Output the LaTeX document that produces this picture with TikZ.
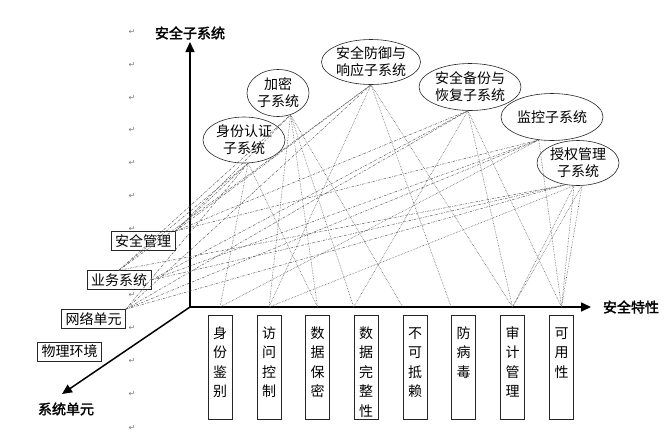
\documentclass[tikz,border=0pt]{standalone}
\usepackage{fontspec}
\setmainfont{Noto Sans CJK SC}[AutoFakeBold=2]
\newfontfamily\symfont{DejaVu Sans}
\usetikzlibrary{positioning,calc,shapes.geometric,arrows.meta}
\newcommand\vcol[1]{\parbox[t][104pt][t]{15pt}{\centering\fontsize{14}{19.5}\selectfont\rule{0pt}{23pt}#1}}

\begin{document}
\begin{tikzpicture}[x=1pt,y=-1pt,font=\fontsize{14}{17}\selectfont,
  axis/.style={line width=1.5pt,-{Triangle[length=10pt,width=9pt]}},
  axlab/.style={font=\fontsize{14}{16}\selectfont\bfseries},
  unit/.style={draw=black!85,fill=white,inner xsep=4pt,inner ysep=3pt,line width=0.6pt},
  sub/.style={ellipse,draw=black!85,fill=white,inner sep=0pt,align=center,line width=0.6pt},
  feat/.style={draw=black!85,fill=white,anchor=north,inner xsep=4.5pt,inner ysep=0pt,line width=0.6pt},
  conn/.style={gray!75!black,densely dotted,line width=0.6pt},
  link/.style={gray!75!black,dash pattern=on 2.5pt off 1.2pt on 0.6pt off 1.2pt,line width=0.5pt},
  pmark/.style={font=\symfont\fontsize{8}{9}\selectfont,text=gray}]
\useasboundingbox (0,0) rectangle (668,440);

% paragraph marks
\node[pmark] (p1) at (132,32) {↵};
\node[pmark] (p2) at (132,65) {↵};
\node[pmark] (p3) at (132,98) {↵};
\node[pmark] (p4) at (132,130) {↵};
\node[pmark] (p5) at (132,163) {↵};
\node[pmark] (p6) at (132,196) {↵};
\node[pmark] (p7) at (132,229) {↵};
\node[pmark] (p8) at (132,295) {↵};
\node[pmark] (p9) at (132,328) {↵};
\node[pmark] (p10) at (132,361) {↵};
\node[pmark] (p11) at (132,394) {↵};
\node[pmark] (p12) at (132,428) {↵};

% axes
\coordinate (O) at (190,307);
\coordinate (ytip) at (190,42);
\coordinate (xtip) at (591,307);
\coordinate (ztip) at (62,394);
\draw[axis] (O) -- (ytip);
\draw[axis] (O) -- (xtip);
\draw[axis] (O) -- (ztip);
\node[axlab] (ylab) at (190,33) {安全子系统};
\node[axlab] (xlab) at (631,307) {安全特性};
\node[axlab] (zlab) at (66,409) {系统单元};

% system units
\node[unit] (gl) at (143,241) {安全管理};
\node[unit] (yw) at (119,280) {业务系统};
\node[unit] (wl) at (93.5,319) {网络单元};
\node[unit] (wh) at (69.5,351.5) {物理环境};

% subsystems
\node[sub,minimum width=82,minimum height=46] (sfrz) at (244,140) {身份认证\\子系统};
\node[sub,minimum width=62,minimum height=47] (jm) at (278,93) {加密\\子系统};
\node[sub,minimum width=98,minimum height=45] (fy) at (371,62) {安全防御与\\响应子系统};
\node[sub,minimum width=102,minimum height=47] (bf) at (470,87) {安全备份与\\恢复子系统};
\node[sub,minimum width=102,minimum height=47] (jk) at (552,117) {监控子系统};
\node[sub,minimum width=82,minimum height=45] (sq) at (578,163) {授权管理\\子系统};

% security features
\node[feat] (b1) at (220,315) {\vcol{身\\份\\鉴\\别}};
\node[feat] (b2) at (269,315) {\vcol{访\\问\\控\\制}};
\node[feat] (b3) at (317.5,315) {\vcol{数\\据\\保\\密}};
\node[feat] (b4) at (366,315) {\vcol{数\\据\\完\\整\\性}};
\node[feat] (b5) at (415,315) {\vcol{不\\可\\抵\\赖}};
\node[feat] (b6) at (463.5,315) {\vcol{防\\病\\毒}};
\node[feat] (b7) at (512.5,315) {\vcol{审\\计\\管\\理}};
\node[feat] (b8) at (561.5,315) {\vcol{可\\用\\性}};
\coordinate (a1) at (b1.north |- O);
\coordinate (a2) at (b2.north |- O);
\coordinate (a3) at (b3.north |- O);
\coordinate (a4) at (b4.north west |- O);
\coordinate (a5) at (b5.north west |- O);
\coordinate (a6) at (b6.north west |- O);
\coordinate (a7) at (b7.north |- O);
\coordinate (a8) at (b8.north |- O);

% units to subsystems
\draw[link] (gl.north east) -- (sfrz.-80);
\draw[link] (gl.north east) -- (jm.-60);
\draw[link] (gl.north east) -- (fy.south);
\draw[link] (gl.north east) -- (bf.-95);
\draw[link] (gl.north east) -- (jk.-120);
\draw[link] (yw.north) -- (sfrz.-80);
\draw[link] (yw.north) -- (jm.-60);
\draw[link] (yw.north) -- (fy.south);
\draw[link] (yw.north) -- (sq.-120);
\draw[link] (yw.east) -- (bf.-95);
\draw[link] (yw.east) -- (jk.-120);
\draw[link] (yw.east) -- (sq.-120);
\draw[link] (wl.north east) -- (sfrz.-80);
\draw[link] (wl.north east) -- (fy.south);
\draw[link] (wl.north east) -- (bf.-95);
\draw[link] (wl.north east) -- (jk.-120);
\draw[link] (wl.north east) -- (sq.-120);

% subsystems to features
\draw[conn] (sfrz.-80) -- (a1);
\draw[conn] (sfrz.-80) -- (a3);
\draw[conn] (jm.-60) -- (a2);
\draw[conn] (jm.-60) -- (a3);
\draw[conn] (jm.-60) -- (a4);
\draw[conn] (jm.-60) -- (a5);
\draw[conn] (fy.south) -- (a2);
\draw[conn] (fy.south) -- (a6);
\draw[conn] (fy.south) -- (a7);
\draw[conn] (bf.-95) -- (a4);
\draw[conn] (bf.-95) -- (a7);
\draw[conn] (bf.-95) -- (a8);
\draw[conn] (jk.-120) -- (a1);
\draw[conn] (jk.-120) -- (a8);
\draw[conn] (sq.-100) -- (a2);
\draw[conn] (sq.-100) -- (a7);
\draw[conn] (sq.-80) -- (a7);
\draw[conn] (sq.-80) -- (a8);
\draw[conn] (sq.-100) -- (a8);
\end{tikzpicture}
\end{document}
